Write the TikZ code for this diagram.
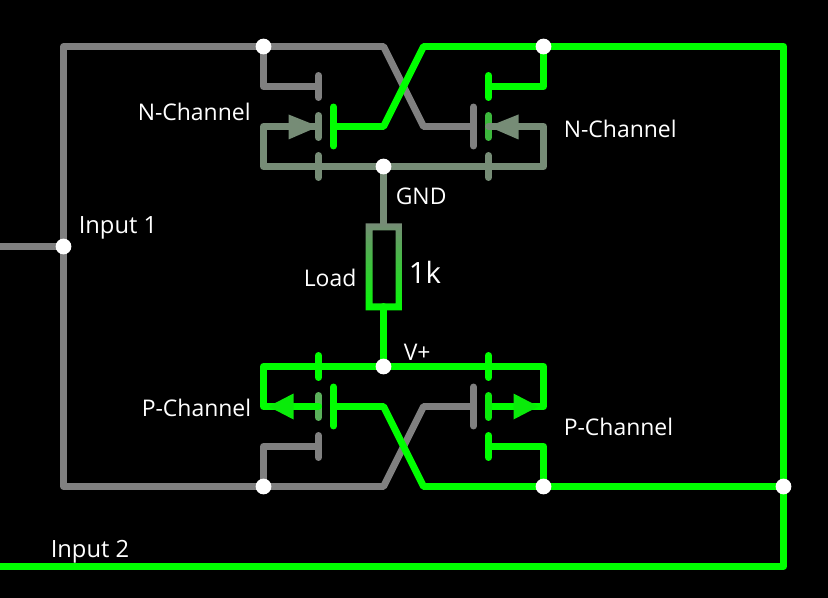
\documentclass[tikz,border=0pt]{standalone}
\usepackage{fontspec}
\setmainfont{Open Sans}
\definecolor{wgrey}{RGB}{128,128,128}
\definecolor{wgreen}{RGB}{0,255,0}
\definecolor{wgreenb}{RGB}{10,235,10}
\definecolor{wmix}{RGB}{118,140,118}
\definecolor{wbarN}{RGB}{60,184,60}
\definecolor{wbarP}{RGB}{90,176,90}
\tikzset{
  wire/.style={line width=5.2pt,line join=round,line cap=round},
  bar/.style={line width=5.2pt,line cap=round},
  dot/.style={circle,fill=white,draw=none,inner sep=0pt,minimum size=11.8pt},
  lbl/.style={text=white,font=\fontsize{17.2}{20}\selectfont,inner sep=0pt,anchor=west},
  lblw/.style={lbl,font=\fontsize{17.8}{20}\selectfont}
}
\begin{document}
\begin{tikzpicture}[x=0.75pt,y=-0.75pt]
\useasboundingbox[fill=black] (-0.5,-0.5) rectangle (827.5,597.5);
\coordinate (inA) at (-8,246);
\coordinate (inB) at (-8,566);
\coordinate (jA) at (63,246);
\coordinate (jB) at (263,46);
\coordinate (jC) at (543,46);
\coordinate (jD) at (383,166);
\coordinate (jE) at (383,366);
\coordinate (jF) at (263,486);
\coordinate (jG) at (543,486);
\coordinate (jH) at (783,486);
% grey wires
\draw[wire,wgrey] (inA) -- (jA);
\draw[wire,wgrey] (473,126) -- (423,126) -- (383,46) -- (63,46) -- (63,486) -- (383,486) -- (423,406) -- (473,406);
\draw[wire,wgrey] (jB) -- (263,86) -- (318,86);
\draw[wire,wgrey] (jF) -- (263,446) -- (318,446);
\foreach \x/\y/\l in {318/86/11,318/446/11,473/126/19.5,473/406/19.5}
  \draw[bar,wgrey] (\x,\y-\l) -- (\x,\y+\l);
% green wires
\draw[wire,wgreen] (inB) -- (783,566) -- (783,46) -- (423,46) -- (383,126) -- (333,126);
\draw[wire,wgreen] (333,406) -- (383,406) -- (423,486) -- (jH);
\draw[wire,wgreen] (jC) -- (543,86) -- (488,86);
\draw[wire,wgreen] (jG) -- (543,446) -- (488,446);
\draw[wire,wgreen] (318,406) -- (263,406) -- (263,366) -- (543,366) -- (543,406) -- (488,406);
\draw[wire,wgreen] (jE) -- (383,306);
\foreach \x/\y/\l in {333/126/19.5,333/406/19.5,488/86/11,488/446/11,318/366/11,488/366/11}
  \draw[bar,wgreen] (\x,\y-\l) -- (\x,\y+\l);
\draw[bar,wgreenb] (488,395) -- (488,417);
\draw[bar,wbarP] (318,395) -- (318,417);
\draw[wire,wgreen] (318,406) -- (300,406);
% mixed wires
\draw[wire,wmix] (318,126) -- (263,126) -- (263,166) -- (543,166) -- (543,126) -- (488,126);
\draw[wire,wmix] (jD) -- (383,226);
\foreach \y in {126,166}
  \draw[bar,wmix] (318,\y-11) -- (318,\y+11);
\draw[bar,wmix] (488,155) -- (488,177);
\draw[bar,wbarN] (488,115) -- (488,137);
\draw[wire,wmix] (488,126) -- (500,126);
% arrows
\fill[wmix] (318,126) -- (288,114) -- (288,139) -- cycle;
\fill[wmix] (488,126) -- (518,114) -- (518,139) -- cycle;
\fill[wgreenb] (268,406) -- (293,393) -- (293,419) -- cycle;
\fill[wgreenb] (538,406) -- (513,393) -- (513,419) -- cycle;
% load
\shade[top color=wmix,bottom color=wgreen,middle color=wmix!50!wgreen,even odd rule] (365,223) rectangle (402,310) (372,230) rectangle (395,303);
% junction dots
\foreach \n/\m in {jA/dA,jB/dB,jC/dC,jD/dD,jE/dE,jF/dF,jG/dG,jH/dH}
  \node[dot] (\m) at (\n) {};
% labels
\node[lbl] (t1) at (137,111.5) {N-Channel};
\node[lbl] (t2) at (563,128.5) {N-Channel};
\node[lblw] (t3) at (78,227.5) {Input 1};
\node[lbl] (t4) at (395,195.5) {GND};
\node[lbl] (t5) at (303,277.5) {Load};
\node[lbl,font=\fontsize{22}{24}\selectfont] (t6) at (408,271.5) {1k};
\node[lbl] (t7) at (403,351.5) {V+};
\node[lbl] (t8) at (141,407.5) {P-Channel};
\node[lbl] (t9) at (563,426.5) {P-Channel};
\node[lblw] (t10) at (50,551.5) {Input 2};
\end{tikzpicture}
\end{document}
